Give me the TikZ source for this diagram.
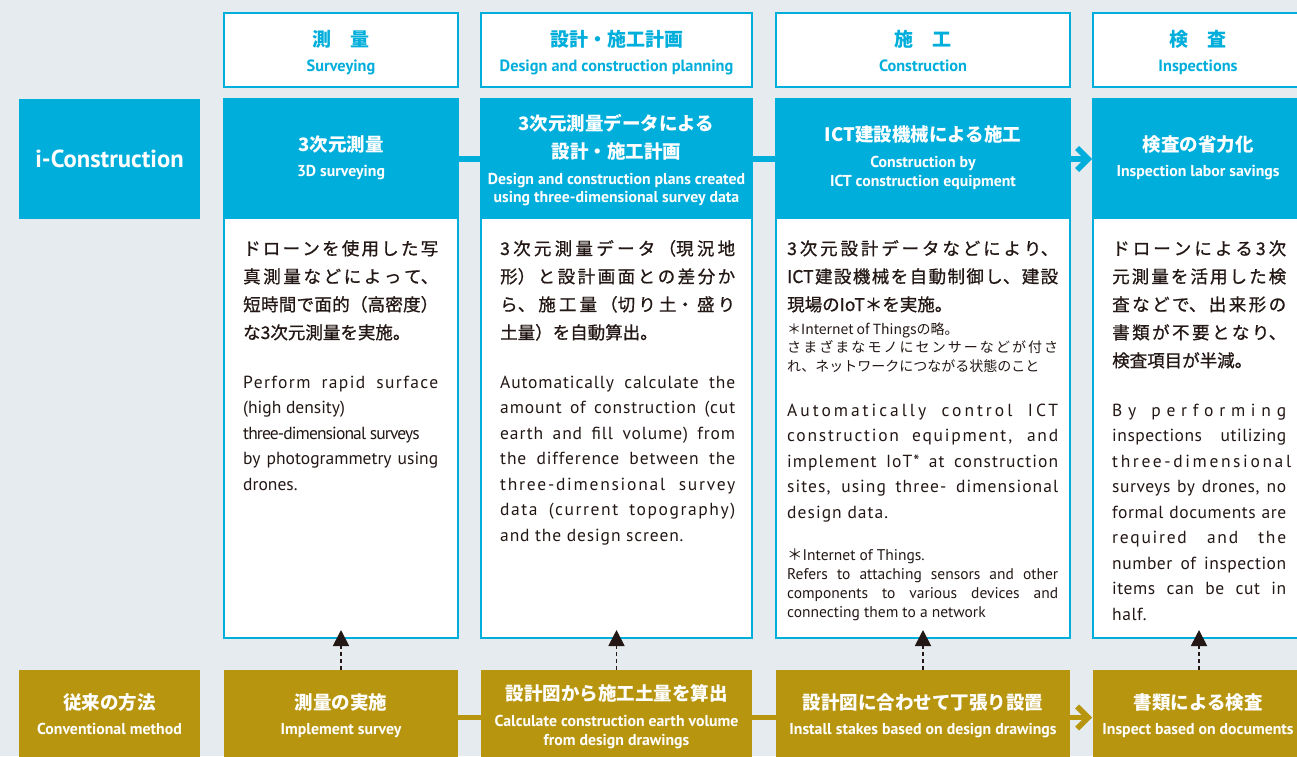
\documentclass[tikz,border=0pt]{standalone}
\usepackage{fontspec}
\setmainfont{PT Sans}
\newfontfamily\en{PT Sans}
\newfontfamily\jp{Noto Sans CJK JP}
\newfontfamily\jpm{Noto Sans CJK JP}[FakeBold=0.8]
\usetikzlibrary{arrows.meta,calc}
\definecolor{bg}{RGB}{229,235,238}
\definecolor{cy}{RGB}{0,174,219}
\definecolor{gd}{RGB}{183,149,15}
\definecolor{ink}{RGB}{35,24,21}
\newcommand\parsetup{\tolerance=10000\relax\hbadness=10000\relax\hyphenpenalty=10000\relax\exhyphenpenalty=10000\relax}
\newcommand\jasetup{\XeTeXlinebreaklocale "ja"\relax\XeTeXlinebreakskip=0pt plus 8pt\relax}
\newcommand\ls[2]{{\addfontfeature{LetterSpace=#1}#2}}
\tikzset{
  hdrbox/.style={draw=cy, line width=1.6pt, fill=white, anchor=north west, inner sep=0pt, outer sep=0pt, minimum height=74pt},
  bodybox/.style={draw=cy, line width=1.6pt, fill=white, anchor=north west, inner sep=0pt, outer sep=0pt, minimum height=539pt},
  bluebox/.style={fill=cy, anchor=north west, inner sep=0pt, outer sep=0pt, minimum height=120pt},
  goldbox/.style={fill=gd, anchor=north west, inner sep=0pt, outer sep=0pt, minimum height=95pt},
  jt/.style={anchor=base, inner sep=0pt, font=\jp\bfseries\fontsize{18.5}{22}\selectfont},
  hjt/.style={anchor=base, inner sep=0pt, text=cy, font=\jp\bfseries\fontsize{19}{22}\selectfont},
  het/.style={anchor=base, inner sep=0pt, text=cy, font=\en\bfseries\fontsize{16.3}{18}\selectfont},
  et/.style={anchor=base, inner sep=0pt, font=\en\bfseries\fontsize{15.8}{18}\selectfont},
  jbody/.style={anchor=base west, inner sep=0pt, text=ink, align=justify, text width=#1,
    font=\jpm\fontsize{17.5}{28}\selectfont\jasetup\parsetup},
  jnote/.style={anchor=base west, inner sep=0pt, text=ink, align=justify, text width=#1,
    font=\jp\fontsize{14}{18.5}\selectfont\jasetup\parsetup},
  ebody/.style={anchor=base west, inner sep=0pt, text=ink, align=justify, text width=#1,
    font=\en\fontsize{17.5}{25.5}\selectfont\parsetup},
  enote/.style={anchor=base west, inner sep=0pt, text=ink, align=justify, text width=#1,
    font=\en\fontsize{15.5}{19}\selectfont\parsetup},
  cyband/.style={draw=cy, line width=5.5pt},
  gdband/.style={draw=gd, line width=5.5pt},
  cychev/.style={draw=cy, line width=5.5pt, -{Straight Barb[length=11pt,width=22pt]}},
  gdchev/.style={draw=gd, line width=5.5pt, -{Straight Barb[length=11pt,width=22pt]}},
  dasharr/.style={draw=ink, line width=1.8pt, dash pattern=on 4pt off 3pt, -{Triangle[length=16pt,width=16pt]}}
}
\begin{document}
\begin{tikzpicture}[x=1pt,y=-1pt]
\useasboundingbox (0,0) rectangle (1297,756);
\begin{scope}
\clip (0,0) rectangle (1297,756);
\fill[bg] (0,0) rectangle (1297,756);

% header boxes
\node[hdrbox, minimum width=234pt] (h1) at (224,13) {};
\node[hdrbox, minimum width=271pt] (h2) at (481,13) {};
\node[hdrbox, minimum width=294pt] (h3) at (776,13) {};
\node[hdrbox, minimum width=212pt] (h4) at (1093,13) {};

% body boxes
\node[bodybox, minimum width=234pt] (w1) at (224,99) {};
\node[bodybox, minimum width=271pt] (w2) at (481,99) {};
\node[bodybox, minimum width=294pt] (w3) at (776,99) {};
\node[bodybox, minimum width=212pt] (w4) at (1093,99) {};

% blue boxes
\node[bluebox, minimum width=181pt] (b0) at (19,99) {};
\node[bluebox, minimum width=234pt] (b1) at (224,99) {};
\node[bluebox, minimum width=271pt] (b2) at (481,99) {};
\node[bluebox, minimum width=294pt] (b3) at (776,99) {};
\node[bluebox, minimum width=212pt] (b4) at (1093,99) {};

% gold boxes
\node[goldbox, minimum width=181pt] (g0) at (19,670) {};
\node[goldbox, minimum width=234pt] (g1) at (224,670) {};
\node[goldbox, minimum width=271pt] (g2) at (481,670) {};
\node[goldbox, minimum width=294pt] (g3) at (776,670) {};
\node[goldbox, minimum width=212pt] (g4) at (1093,670) {};

% connectors
\draw[cyband] (b1.east) -- (b2.west);
\draw[cyband] (b2.east) -- (b3.west);
\draw[cychev] (b3.east) -- ([xshift=-1pt]b4.west);
\draw[gdband] (g1.east) -- (g2.west);
\draw[gdband] (g2.east) -- (g3.west);
\draw[gdchev] (g3.east) -- ([xshift=-1pt]g4.west);
\draw[dasharr] (g1.north) -- ([yshift=8pt]w1.south);
\draw[dasharr] (g2.north) -- ([yshift=8pt]w2.south);
\draw[dasharr] (g3.north) -- ([yshift=8pt]w3.south);
\draw[dasharr] (g4.north) -- ([yshift=8pt]w4.south);

% header texts
\node[hjt] (h1j) at (341,46) {測　量};
\node[het] (h1e) at (341,71) {Surveying};
\node[hjt] (h2j) at (616.5,46) {設計・施工計画};
\node[het] (h2e) at (616.5,71) {Design and construction planning};
\node[hjt] (h3j) at (923,46) {施　工};
\node[het] (h3e) at (923,71) {Construction};
\node[hjt] (h4j) at (1198,46) {検　査};
\node[het] (h4e) at (1198,71) {Inspections};

% blue texts
\node[anchor=base, inner sep=0pt, text=white, font=\en\bfseries\fontsize{24.6}{26}\selectfont] (ic) at (109.5,167) {i-Construction};
\node[jt, text=white] (b1j) at (341,151) {3次元測量};
\node[et, text=white] (b1e) at (341,176) {3D surveying};
\node[jt, text=white] (b2j) at (616.5,130) {3次元測量データによる};
\node[jt, text=white] (b2k) at (616.5,158) {設計・施工計画};
\node[et, text=white] (b2e) at (616.5,184) {Design and construction plans created};
\node[et, text=white] (b2f) at (616.5,202) {using three-dimensional survey data};
\node[jt, text=white] (b3j) at (923,141) {ICT建設機械による施工};
\node[et, text=white] (b3e) at (923,167) {Construction by};
\node[et, text=white] (b3f) at (923,186) {ICT construction equipment};
\node[jt, text=white] (b4j) at (1198,151) {検査の省力化};
\node[et, text=white] (b4e) at (1198,176) {Inspection labor savings};

% gold texts
\node[jt, text=white] (g0j) at (109.5,709) {従来の方法};
\node[et, text=white] (g0e) at (109.5,734) {Conventional method};
\node[jt, text=white] (g1j) at (341,709) {測量の実施};
\node[et, text=white] (g1e) at (341,734) {Implement survey};
\node[jt, text=white] (g2j) at (616.5,700) {設計図から施工土量を算出};
\node[et, text=white] (g2e) at (616.5,726) {Calculate construction earth volume};
\node[et, text=white] (g2f) at (616.5,745) {from design drawings};
\node[jt, text=white] (g3j) at (923,709) {設計図に合わせて丁張り設置};
\node[et, text=white] (g3e) at (923,734) {Install stakes based on design drawings};
\node[jt, text=white] (g4j) at (1198,709) {書類による検査};
\node[et, text=white] (g4e) at (1198,734) {Inspect based on documents};

% body texts
\node[jbody=195pt] (t1j) at (243,255) {ドローンを使用した写\break 真測量などによって、\break 短時間で面的（高密度）\break な3次元測量を実施。};
\node[ebody=195pt] (t1e) at (243,388) {\ls{8}{Perform rapid surface}\break (high density)\\\mbox{\ls{-5}{three-dimensional surveys}}\break by photogrammetry using\break drones.};

\node[jbody=235pt] (t2j) at (500,255) {3次元測量データ（現況地\break 形）と設計画面との差分か\break ら、施工量（切り土・盛り\break 土量）を自動算出。};
\node[ebody=235pt] (t2e) at (500,388) {\addfontfeature{LetterSpace=5}Automatically calculate the\break amount of construction (cut\break earth and fill volume) from\break the difference between the\break \ls{10}{three-dimensional survey}\break \ls{9}{data (current topography)}\break and the design screen.};

\node[jbody=271pt] (t3j) at (787,255) {3次元設計データなどにより、\break ICT建設機械を自動制御し、建設\break 現場のIoT＊を実施。};
\node[jnote=271pt] (t3n) at (787,334) {＊Internet of Thingsの略。\\さまざまなモノにセンサーなどが付さ\break れ、ネットワークにつながる状態のこと};
\node[ebody=271pt] (t3e) at (787,416) {\addfontfeature{LetterSpace=6}\ls{17}{Automatically control ICT}\break \ls{10}{construction equipment, and}\break implement IoT* at construction\break sites, using three- dimensional\break design data.};
\node[enote=271pt] (t3f) at (787,560) {{\jp ＊}Internet of Things.\\Refers to attaching sensors and other\break components to various devices and\break connecting them to a network};

\node[jbody=174pt] (t4j) at (1112,255) {ドローンによる3次\break 元測量を活用した検\break 査などで、出来形の\break 書類が不要となり、\break 検査項目が半減。};
\node[ebody=174pt] (t4e) at (1112,416) {\addfontfeature{LetterSpace=3}\ls{33}{By performing}\break inspections utilizing\break \ls{15}{three-dimensional}\\surveys by drones, no\break formal documents are\break \ls{10}{required and the}\break number of inspection\break items can be cut in\break half.};
\end{scope}
\end{tikzpicture}
\end{document}
